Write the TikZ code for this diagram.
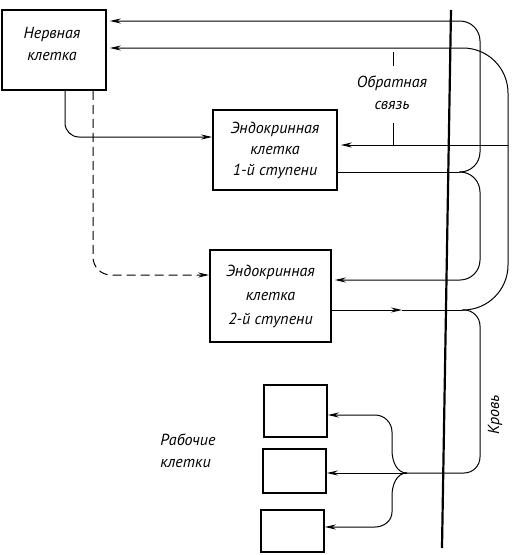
\documentclass[tikz,border=0pt]{standalone}
\usepackage{fontspec}
\setmainfont{PT Sans}
\usetikzlibrary{arrows.meta,calc}
\begin{document}
\begin{tikzpicture}[x=1pt,y=-1pt,
 box/.style={draw,line width=1.7pt,inner sep=0pt,font=\fontsize{16}{21}\selectfont\itshape,align=center},
 lbl/.style={inner sep=0pt,font=\fontsize{16}{22}\selectfont\itshape,align=center},
 wire/.style={line width=1pt},
 tip/.style={-{Stealth[length=11pt,width=5pt]}},
 ]
\useasboundingbox[fill=white] (0,0) rectangle (518,555);
% boxes
\node[box,minimum width=104pt,minimum height=80pt] (nerve) at (54,50) {};
\node[lbl] (nervel) at (52,44) {Нервная\\клетка};
\node[box,minimum width=124pt,minimum height=80pt] (e1) at (275,150) {Эндокринная\\клетка\\1-й ступени};
\node[box,minimum width=121pt,minimum height=92pt,font=\fontsize{16}{24}\selectfont\itshape] (e2) at (270.5,296) {Эндокринная\\клетка\\2-й ступени};
\node[box,minimum width=63pt,minimum height=52pt] (w1) at (295.5,411) {};
\node[box,minimum width=63pt,minimum height=44pt] (w2) at (294.5,471) {};
\node[box,minimum width=63pt,minimum height=42pt] (w3) at (292.5,531) {};
% blood
\coordinate (bt) at (451,10);
\coordinate (bb) at (442,548);
\draw[line width=2.2pt] (bt) -- (bb);
% nerve -> e1
\draw[wire,tip,rounded corners=14pt] ($(nerve.south)+(11,0)$) |- ($(e1.west)+(0,-13)$);
% nerve -> e2 dashed
\draw[wire,tip,dash pattern=on 9pt off 5pt,rounded corners=18pt] ($(nerve.south)+(39,0)$) |- ($(e2.west)+(0,-21)$);
% e1 output
\coordinate (e1o) at ($(e1.east)+(0,22)$);
\coordinate (j1) at (459,172);
\draw[wire] (e1o) -- (j1);
\draw[wire,tip,rounded corners=20pt,shorten >=3pt] (j1) -- (480,172) -- (480,21) -- ($(nerve.east)+(0,-29)$);
\draw[wire,tip,rounded corners=20pt,shorten >=3pt] (j1) -- (480,172) -- (480,280) -- ($(e2.east)+(0,-16)$);
% e2 output
\coordinate (e2o) at ($(e2.east)+(0,14)$);
\coordinate (m2) at (402,310);
\coordinate (j2) at (462,310);
\draw[wire,tip] (e2o) -- (m2);
\draw[wire] (m2) -- (j2);
\draw[wire,tip,rounded corners=45pt,shorten >=3pt] (j2) -- (508,310) -- (508,48) -- ($(nerve.east)+(0,-2)$);
% feedback to e1
\coordinate (fbr) at (508,145);
\draw[wire,tip,shorten >=3pt] (fbr) -- ($(e1.east)+(0,-5)$);
% to working cells
\coordinate (br) at (407,473);
\draw[wire,rounded corners=16pt] (j2) -- (480,310) -- (480,473) -- (br);
\draw[wire,tip] (br) -- ($(w2.east)+(0,2)$);
\draw[wire,tip] (br) to[out=180,in=-90] (392,450) -- (392,432) to[out=90,in=0] (375,415) -- ($(w1.east)+(0,4)$);
\draw[wire,tip] (br) to[out=180,in=90] (392,496) -- (392,512) to[out=-90,in=0] (375,527) -- ($(w3.east)+(0,-4)$);
% labels
\node[lbl] (fb) at (392,93) {Обратная\\связь};
\draw[wire] (393,52) -- (393,66);
\draw[wire] (393,123) -- (393,145);
\node[lbl,align=left] (rab) at (188,451) {Рабочие\\клетки};
\node[lbl,rotate=90] (krov) at (495,415) {Кровь};
\end{tikzpicture}
\end{document}
